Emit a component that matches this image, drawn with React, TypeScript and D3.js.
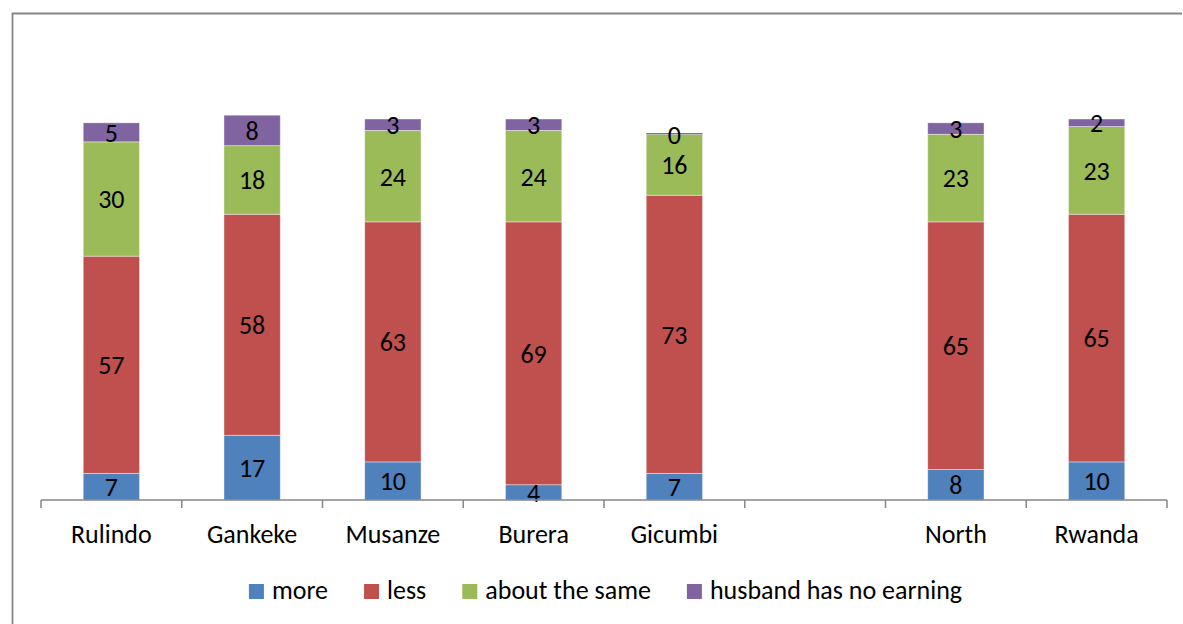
import React, { useEffect, useRef } from "react";
import * as d3 from "d3";

const categories = ["Rulindo", "Gankeke", "Musanze", "Burera", "Gicumbi", "", "North", "Rwanda"];
const seriesNames = ["more", "less", "about the same", "husband has no earning"];
const more = [7, 17, 10, 4, 7, null, 8, 10];
const less = [57, 58, 63, 69, 73, null, 65, 65];
const aboutSame = [30, 18, 24, 24, 16, null, 23, 23];
const noEarning = [5, 8, 3, 3, 0, null, 3, 2];
const colors = ["#4F81BD", "#C0504D", "#9BBB59", "#8064A2"];

const W = 1183;
const H = 624;
const FONT = "Carlito, Lato, 'Open Sans', sans-serif";
const FS = 26;

export default function App() {
  const ref = useRef<SVGSVGElement | null>(null);

  useEffect(() => {
    document.body.style.margin = "0";
    const svg = d3.select(ref.current);
    svg.selectAll("*").remove();

    // frame (left and top edges)
    svg.append("path")
      .attr("d", `M12.5,624 L12.5,13.5 L1182,13.5`)
      .attr("fill", "none")
      .attr("stroke", "#868686")
      .attr("stroke-width", 1.8);

    const keys = categories.map((c, i) => (c === "" ? `__gap${i}` : c));
    const x = d3.scaleBand<string>().domain(keys).range([41, 1167]).paddingInner(0.6).paddingOuter(0.3);
    const y = d3.scaleLinear().domain([0, 100]).range([500, 119]);

    const series = [more, less, aboutSame, noEarning];
    const g = svg.append("g");

    keys.forEach((k, i) => {
      if (more[i] == null) return;
      let base = 0;
      series.forEach((s, si) => {
        const v = s[i] as number;
        const y0 = y(base);
        const y1 = y(base + v);
        const h = Math.max(y0 - y1, v === 0 ? 1.2 : 0);
        g.append("rect")
          .attr("x", x(k)!)
          .attr("y", y0 - h)
          .attr("width", x.bandwidth())
          .attr("height", h)
          .attr("fill", colors[si])
          .attr("stroke", v === 0 ? "none" : "#ffffff")
          .attr("stroke-opacity", 0.5)
          .attr("stroke-width", 0.8);
        base += v;
      });
      base = 0;
      series.forEach((s) => {
        const v = s[i] as number;
        const cy = (y(base) + y(base + v)) / 2;
        g.append("text")
          .attr("x", x(k)! + x.bandwidth() / 2)
          .attr("y", cy)
          .attr("dy", "0.36em")
          .attr("text-anchor", "middle")
          .attr("font-family", FONT)
          .attr("font-size", FS)
          .attr("fill", "#000")
          .text(String(v));
        base += v;
      });
    });

    // axis
    const step = x.step();
    const ticks = d3.range(categories.length + 1).map((i) => 41 + i * step);
    svg.append("line")
      .attr("x1", 41).attr("x2", 1167).attr("y1", 500).attr("y2", 500)
      .attr("stroke", "#868686").attr("stroke-width", 1.5);
    svg.selectAll(".tick").data(ticks).enter().append("line")
      .attr("x1", (d) => d).attr("x2", (d) => d)
      .attr("y1", 500).attr("y2", 508)
      .attr("stroke", "#868686").attr("stroke-width", 1.5);

    keys.forEach((k, i) => {
      svg.append("text")
        .attr("x", x(k)! + x.bandwidth() / 2)
        .attr("y", 543)
        .attr("text-anchor", "middle")
        .attr("font-family", FONT)
        .attr("font-size", FS)
        .attr("fill", "#000")
        .text(categories[i]);
    });

    // legend
    const lg = svg.append("g");
    let cx = 0;
    seriesNames.forEach((name, i) => {
      const ig = lg.append("g");
      ig.append("rect").attr("x", 0).attr("y", 584).attr("width", 15).attr("height", 15).attr("fill", colors[i]);
      const t = ig.append("text")
        .attr("x", 23).attr("y", 599)
        .attr("font-family", FONT).attr("font-size", FS).attr("fill", "#000")
        .text(name);
      const tw = (t.node() as SVGTextElement).getComputedTextLength();
      ig.attr("transform", `translate(${cx},0)`);
      cx += 23 + tw + 36;
    });
    const total = cx - 36;
    lg.attr("transform", `translate(${605.5 - total / 2},0)`);
  }, []);

  return <svg ref={ref} width={W} height={H} style={{ display: "block", background: "#fff" }} />;
}
